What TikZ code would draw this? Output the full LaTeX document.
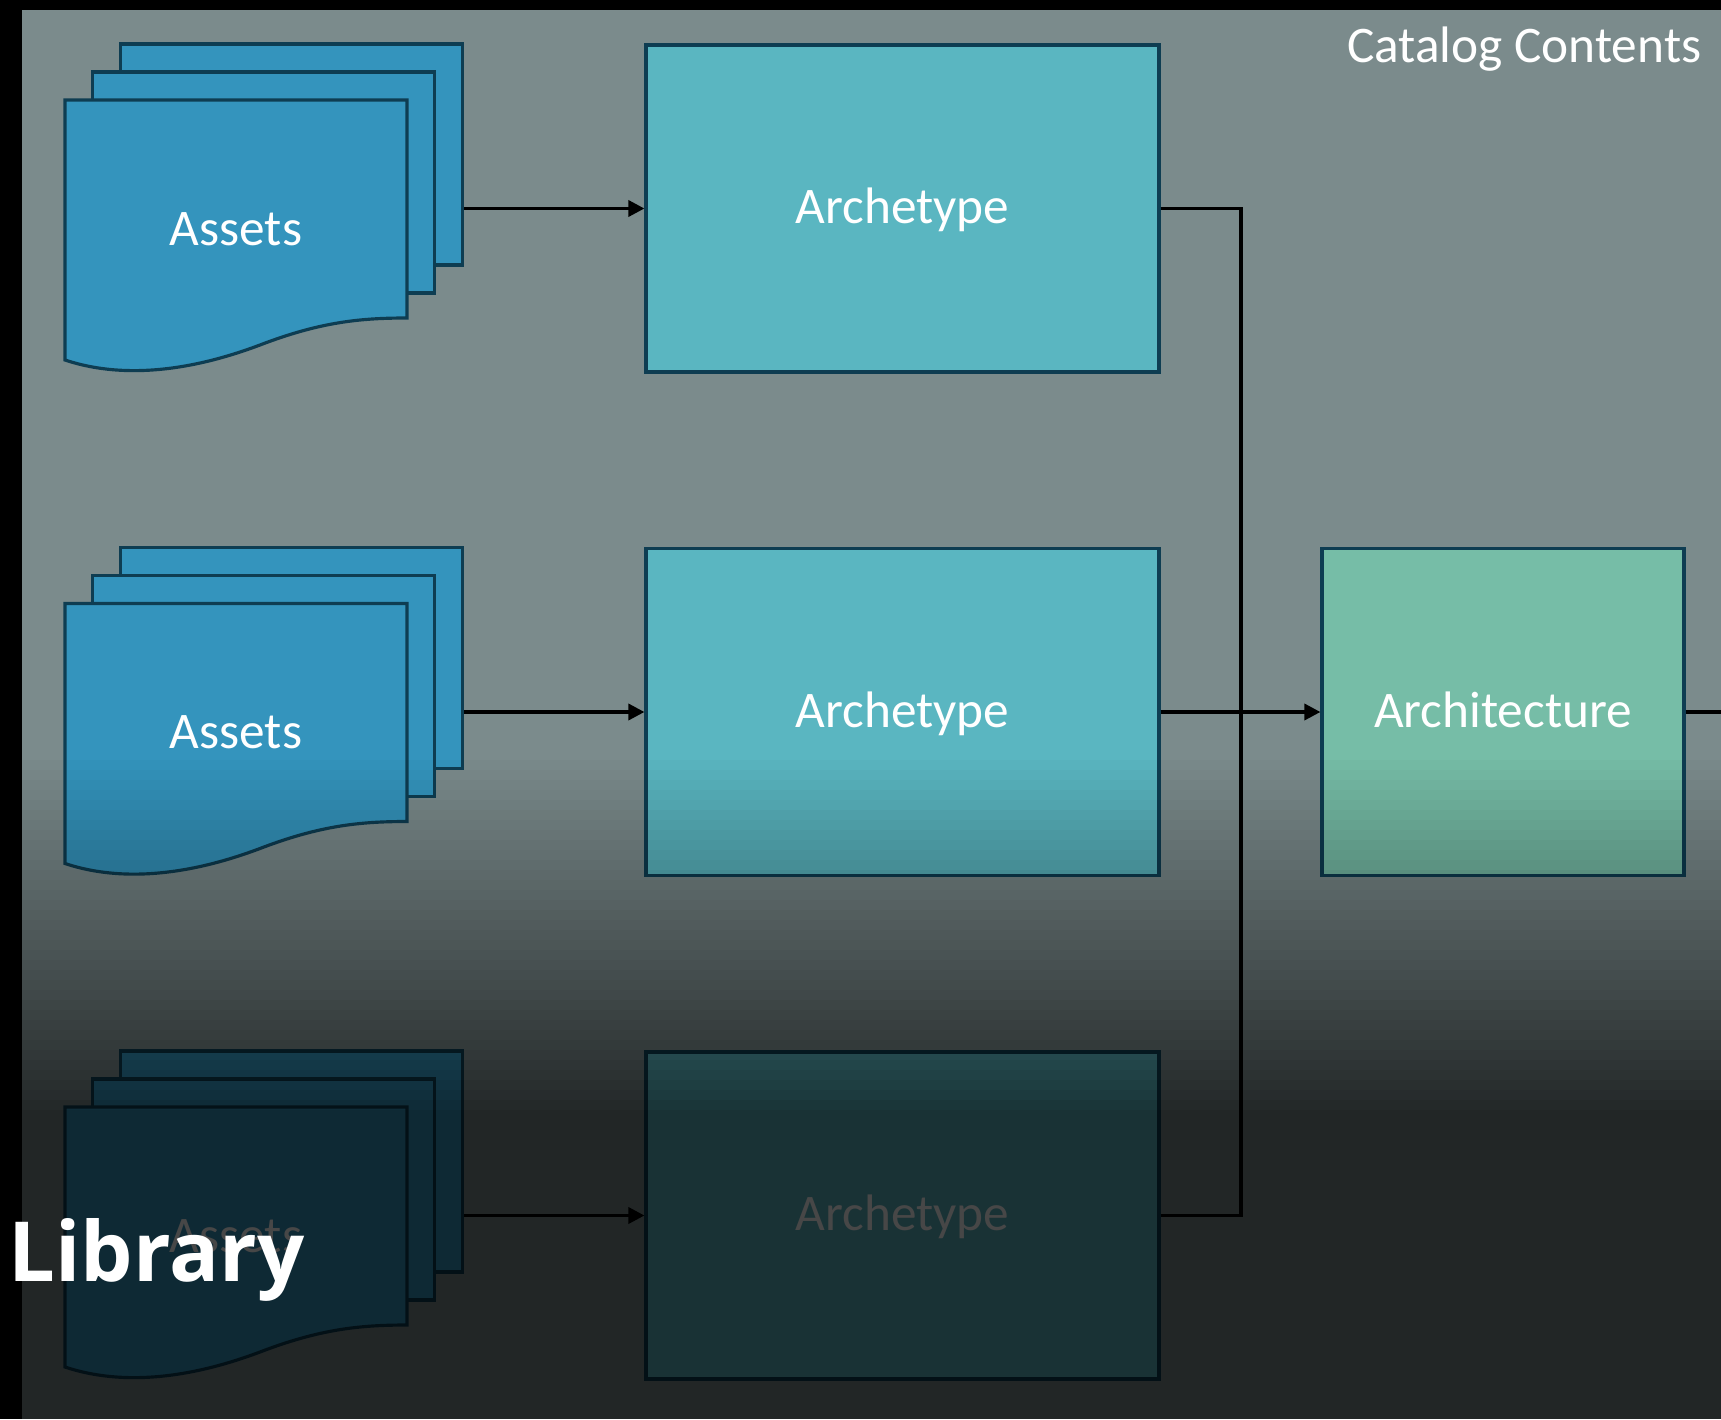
\documentclass[tikz,border=0pt]{standalone}
\usepackage{fontspec}
\setmainfont{Carlito}
\newfontfamily\headfont{Open Sans}
\usetikzlibrary{arrows.meta}
\definecolor{backdrop}{HTML}{7B8B8C}
\definecolor{sheetfill}{HTML}{3494BD}
\definecolor{sheetline}{HTML}{0E3D52}
\definecolor{archfill}{HTML}{5AB6C1}
\definecolor{structfill}{HTML}{76BDA7}
\tikzset{
  sheet/.style={draw=sheetline, fill=sheetfill, line width=0.9pt},
  sheetbox/.style={sheet, minimum width=3.42cm, minimum height=2.21cm, inner sep=0pt},
  label/.style={text=white, inner sep=0pt, text height=8.600000pt, text depth=0pt, font=\fontsize{14.600000}{17.000000}\selectfont},
  archbox/.style={draw=sheetline, fill=archfill, line width=0.9pt, minimum width=5.13cm, minimum height=3.27cm, label},
  structbox/.style={archbox, fill=structfill, minimum width=3.62cm},
  link/.style={line width=1pt, black},
  arrow/.style={link, -{Triangle[length=4.600000pt, width=4.600000pt]}}
}
\begin{document}
\begin{tikzpicture}%
\useasboundingbox (0, 0) rectangle (17.210000, 14.190000);%
\fill[black] (0, 0) rectangle (17.210000, 14.190000);%
\fill[backdrop] (0.220000, 0) rectangle (17.210000, 14.090000);%
% first row
\node[sheetbox] (backA) at (2.915000, 12.645000) {};%
\node[sheetbox] (midA) at (2.635000, 12.365000) {};%
\filldraw[sheet] (0.650000, 13.190000) -- (4.070000, 13.190000) -- (4.070000, 11.010000) .. controls (3.600000, 11.010000) and (3.200000, 10.970000) .. (2.600000, 10.740000) .. controls (2.200000, 10.590000) and (1.400000, 10.340000) .. (0.650000, 10.590000) -- cycle;%
\node[label] (assetsA) at (2.360000, 11.890000) {Assets};%
\node[archbox] (archA) at (9.025000, 12.105000) {Archetype};%
% second row
\node[sheetbox] (backB) at (2.915000, 7.610000) {};%
\node[sheetbox] (midB) at (2.635000, 7.330000) {};%
\filldraw[sheet] (0.650000, 8.155000) -- (4.070000, 8.155000) -- (4.070000, 5.975000) .. controls (3.600000, 5.975000) and (3.200000, 5.935000) .. (2.600000, 5.705000) .. controls (2.200000, 5.555000) and (1.400000, 5.305000) .. (0.650000, 5.555000) -- cycle;%
\node[label] (assetsB) at (2.360000, 6.855000) {Assets};%
\node[archbox] (archB) at (9.025000, 7.070000) {Archetype};%
% third row
\node[sheetbox] (backC) at (2.915000, 2.575000) {};%
\node[sheetbox] (midC) at (2.635000, 2.295000) {};%
\filldraw[sheet] (0.650000, 3.120000) -- (4.070000, 3.120000) -- (4.070000, 0.940000) .. controls (3.600000, 0.940000) and (3.200000, 0.900000) .. (2.600000, 0.670000) .. controls (2.200000, 0.520000) and (1.400000, 0.270000) .. (0.650000, 0.520000) -- cycle;%
\node[label] (assetsC) at (2.360000, 1.820000) {Assets};%
\node[archbox] (archC) at (9.025000, 2.035000) {Archetype};%
% architecture
\node[structbox] (arch) at (15.030000, 7.070000) {Architecture};%
\coordinate (joint) at (12.410000, 7.070000);%
\coordinate (exit) at (17.210000, 7.070000);%
\draw[arrow] (backA.east |- archA.west) -- (archA.west);%
\draw[arrow] (backB.east |- archB.west) -- (archB.west);%
\draw[arrow] (backC.east |- archC.west) -- (archC.west);%
\draw[link] (archA.east) -| (joint);%
\draw[link] (archC.east) -| (joint);%
\draw[arrow] (archB.east) -- (arch.west);%
\draw[link] (arch.east) -- (exit);%
\node[label, anchor=base east] (title) at (17.020000, 13.560000) {Catalog Contents};%
% fade to dark
\foreach \k [evaluate=\k as \op using \k/50] in {1,...,36} {%
\fill[black, fill opacity=\op] (0.220000, 6.690000-0.1*\k) rectangle (17.210000, 6.590000-0.1*\k);%
}%
\fill[black, fill opacity=0.720000] (0.220000, 0) rectangle (17.210000, 2.990000);%
\node[text=white, inner sep=0pt, anchor=base west, font=\headfont\bfseries\fontsize{23.600000}{28.000000}\selectfont] (library) at (0.080000, 1.380000) {Library};%
\end{tikzpicture}
\end{document}
